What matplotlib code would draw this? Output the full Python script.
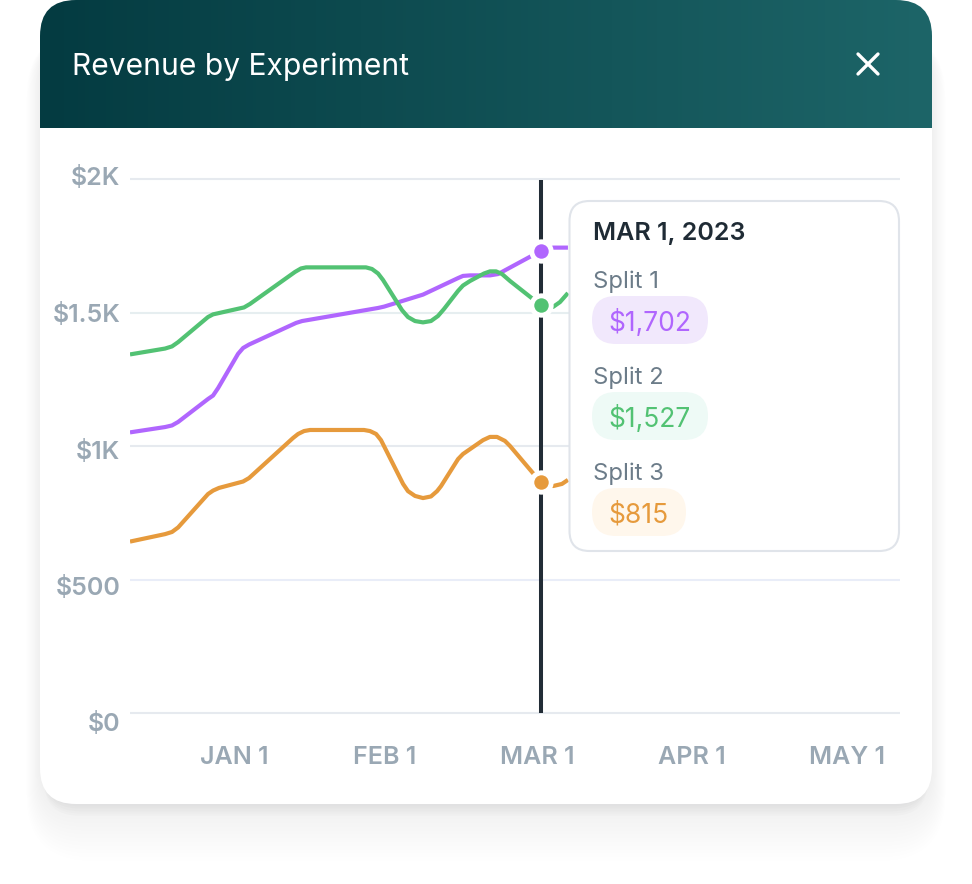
"""
plot.py
-------
Revenue by Experiment card: three splits over months, with a hover line and tooltip.
"""

import numpy as np
import matplotlib
matplotlib.use("Agg")
import matplotlib.pyplot as plt
from matplotlib.patches import FancyBboxPatch
from matplotlib.transforms import ScaledTranslation

plt.rcParams["font.family"] = ["Inter", "DejaVu Sans"]

# ---------------------------------------------------------------------------
# Data (x is in months after Jan 1)
# ---------------------------------------------------------------------------
split1_x = [-0.679, -0.450, -0.405, -0.365, -0.170, -0.137, -0.104, 0.026, 0.059, 0.098,
            0.405, 0.444, 0.940, 0.979, 1.233, 1.462, 1.494, 1.540, 1.670, 1.723,
            2.0, 2.082, 2.179]
split1_y = [1051, 1071, 1077, 1090, 1176, 1189, 1217, 1345, 1367, 1380,
            1461, 1468, 1517, 1522, 1567, 1629, 1637, 1639, 1639, 1644,
            1730, 1743, 1743]

split2_x = [-0.679, -0.450, -0.405, -0.365, -0.170, -0.137, -0.098, 0.065, 0.104, 0.398,
            0.437, 0.470, 0.861, 0.900, 0.940, 0.972, 1.096, 1.135, 1.181, 1.233,
            1.285, 1.331, 1.370, 1.462, 1.494, 1.540, 1.631, 1.670, 1.710, 1.749,
            1.801, 2.0, 2.082, 2.127, 2.179]
split2_y = [1343, 1365, 1373, 1389, 1483, 1493, 1498, 1519, 1532, 1652,
            1665, 1669, 1669, 1663, 1646, 1622, 1509, 1483, 1468, 1463,
            1468, 1487, 1513, 1581, 1601, 1618, 1646, 1654, 1654, 1644,
            1618, 1528, 1521, 1539, 1573]

split3_x = [-0.679, -0.450, -0.405, -0.365, -0.170, -0.137, -0.098, 0.059, 0.098, 0.385,
            0.418, 0.457, 0.496, 0.848, 0.887, 0.927, 0.959, 1.103, 1.135, 1.181,
            1.233, 1.285, 1.325, 1.351, 1.462, 1.494, 1.625, 1.670, 1.716, 1.768,
            1.801, 2.0, 2.082, 2.140, 2.179]
split3_y = [642, 670, 678, 695, 820, 833, 843, 867, 880, 1030,
            1045, 1056, 1060, 1060, 1056, 1045, 1022, 858, 831, 813,
            805, 811, 831, 850, 951, 970, 1022, 1034, 1034, 1019,
            1000, 865, 850, 858, 873]

hover_x = 2.0
hover_y = [1730, 1528, 865]
series_colors = ["#b066fe", "#52c273", "#e69a3c"]

month_ticks = [0, 1, 2, 3, 4]
month_labels = ["JAN 1", "FEB 1", "MAR 1", "APR 1", "MAY 1"]
month_shift = [0, -3, -3.5, -2, 0]
value_ticks = [0, 500, 1000, 1500, 2000]
value_labels = ["$0", "$500", "$1K", "$1.5K", "$2K"]
value_shift = [-9, -6, -3, 0, 3]
grid_colors = ["#e6eaef", "#e9edf8", "#e6eaef", "#e6eef0", "#e6eaef"]

tooltip_date = "MAR 1, 2023"
split_names = ["Split 1", "Split 2", "Split 3"]
split_values = ["$1,702", "$1,527", "$815"]
pill_colors = ["#f1e8fc", "#eefaf6", "#fff7ec"]
pill_widths = [116, 116, 94]

W, H = 972, 884
fig = plt.figure(figsize=(W / 100, H / 100), dpi=100, facecolor="white")

# ---------------------------------------------------------------------------
# Card background (pixel coordinates)
# ---------------------------------------------------------------------------
bg = fig.add_axes([0, 0, 1, 1], zorder=0)
bg.set_xlim(0, W)
bg.set_ylim(H, 0)
bg.axis("off")


def round_box(ax, x0, y0, x1, y1, r, **kw):
    box = FancyBboxPatch((x0 + r, y0 + r), x1 - x0 - 2 * r, y1 - y0 - 2 * r,
                         boxstyle=f"round,pad={r},rounding_size={r}", **kw)
    ax.add_patch(box)
    return box


# soft shadow, stacked
for grow in range(30, 0, -2):
    round_box(bg, 40 - grow * 0.45, 40 - grow * 0.3, 932 + grow * 0.45, 804 + grow * 1.9,
              36 + grow, fc="#1c2a3a", ec="none", alpha=0.0036)
for grow in range(10, 0, -2):
    round_box(bg, 44, 40, 928, 804 + grow * 1.2, 36, fc="#1c2a3a", ec="none", alpha=0.012)

card = round_box(bg, 40, 0, 932, 804, 36, fc="white", ec="none")

header_cmap = matplotlib.colors.LinearSegmentedColormap.from_list("hdr", ["#043b41", "#1d6568"])
grad = np.linspace(0, 1, 256).reshape(1, -1)
img = bg.imshow(grad, extent=(40, 932, 128, 0), cmap=header_cmap, aspect="auto", zorder=2)
img.set_clip_path(card)
bg.set_xlim(0, W)
bg.set_ylim(H, 0)

bg.text(72, 64, "Revenue by Experiment", color="white", fontsize=21.6,
        va="center_baseline", ha="left", zorder=3)
bg.plot([858, 878], [54, 74], color="white", lw=2.4, solid_capstyle="round", zorder=3)
bg.plot([858, 878], [74, 54], color="white", lw=2.4, solid_capstyle="round", zorder=3)

# ---------------------------------------------------------------------------
# Chart
# ---------------------------------------------------------------------------
ax = fig.add_axes([130 / W, (H - 713) / H, 770 / W, 534 / H], zorder=1)
ax.patch.set_alpha(0)
ax.set_xlim(-0.679, 4.346)
ax.set_ylim(0, 2000)
for spine in ax.spines.values():
    spine.set_visible(False)

for v, c in zip(value_ticks, grid_colors):
    ax.axhline(v, color=c, lw=1.5, zorder=1, clip_on=False, solid_capstyle="butt")

ax.axvline(hover_x, ymin=0, ymax=0.998, color="#222c36", lw=2.9, zorder=2, solid_capstyle="butt")

for xs, ys, c in zip([split1_x, split2_x, split3_x], [split1_y, split2_y, split3_y], series_colors):
    ax.plot(xs, ys, color=c, lw=3.0, solid_joinstyle="round", solid_capstyle="butt", zorder=3)

for v, c in zip(hover_y, series_colors):
    ax.plot([hover_x], [v], "o", color="white", ms=17.5, mew=0, zorder=4)
    ax.plot([hover_x], [v], "o", color=c, ms=10.4, mew=0, zorder=5)

ax.set_xticks(month_ticks)
ax.set_xticklabels(month_labels, fontsize=18, fontweight="semibold", color="#9aa8b4")
ax.set_yticks(value_ticks)
ax.set_yticklabels(value_labels, fontsize=18, fontweight="semibold", color="#9aa8b4")
ax.tick_params(axis="both", length=0)
ax.tick_params(axis="x", pad=24)
ax.tick_params(axis="y", pad=7)
for lab, dx in zip(ax.get_xticklabels(), month_shift):
    lab.set_transform(lab.get_transform() + ScaledTranslation(dx / 100, 0, fig.dpi_scale_trans))
for lab, dy in zip(ax.get_yticklabels(), value_shift):
    lab.set_transform(lab.get_transform() + ScaledTranslation(0, dy / 100, fig.dpi_scale_trans))

# ---------------------------------------------------------------------------
# Tooltip (pixel coordinates, on top of the chart)
# ---------------------------------------------------------------------------
top = fig.add_axes([0, 0, 1, 1], zorder=2)
top.set_xlim(0, W)
top.set_ylim(H, 0)
top.axis("off")
top.patch.set_alpha(0)

round_box(top, 569.5, 201, 899, 551, 20, fc="white", ec="#e0e4ea", lw=1.5)
top.text(592.5, 231, tooltip_date, fontsize=18, fontweight="semibold", color="#1f2b35",
         va="center_baseline", ha="left")

for i, (name, val, fill, c, w) in enumerate(zip(split_names, split_values, pill_colors,
                                                series_colors, pill_widths)):
    y0 = 296 + 96 * i
    top.text(592.5, y0 - 17, name, fontsize=17.2, color="#6c7c89", va="center_baseline", ha="left")
    round_box(top, 592, y0, 592 + w, y0 + 48, 24, fc=fill, ec="none")
    top.text(591.5 + w / 2, y0 + 24.5, val, fontsize=19, color=c,
             va="center_baseline", ha="center")

fig.savefig("out.png", dpi=100)
